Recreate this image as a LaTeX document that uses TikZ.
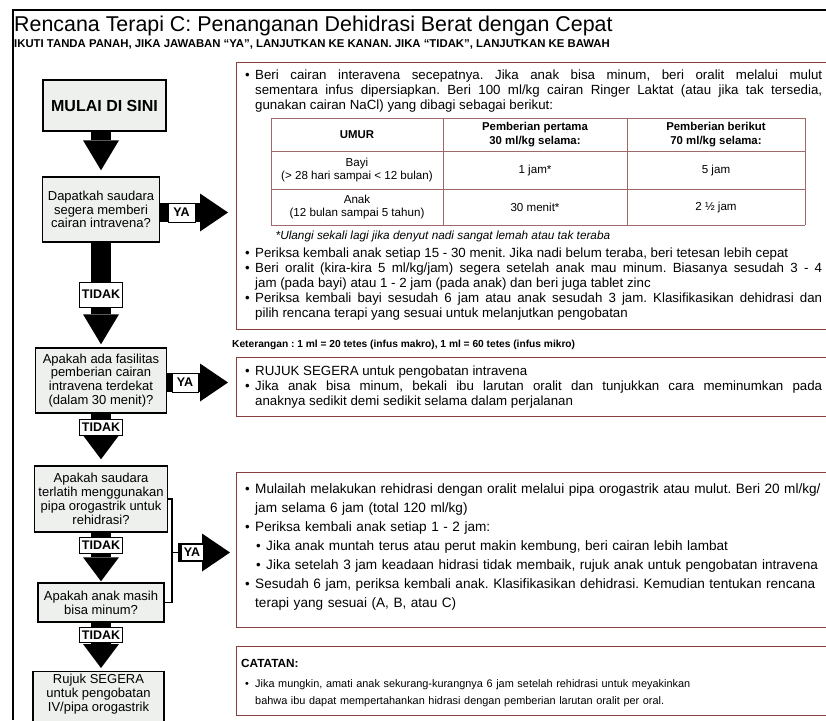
\documentclass[tikz,border=0pt]{standalone}
\usepackage{fontspec}
\setmainfont{Liberation Sans}
\usetikzlibrary{arrows.meta}

\hbadness=10000
\hfuzz=60pt
\hyphenpenalty=10000
\exhyphenpenalty=10000
\frenchspacing

\definecolor{qfill}{RGB}{237,240,236}
\definecolor{boxred}{RGB}{135,62,62}
\definecolor{tabred}{RGB}{160,105,105}

\newcommand{\fsz}[2]{\fontsize{#1}{#2}\selectfont}

\begin{document}
\begin{tikzpicture}[x=1pt,y=-1pt]
	\tikzstyle{outline} = [line width=1.8pt];
	\tikzstyle{question} = [draw, line width=1.4pt, fill=qfill, align=center, inner sep=0pt, font={\fsz{13}{13.8}}];
	\tikzstyle{advice} = [draw=boxred, line width=1.4pt, anchor=north west, inner sep=0pt, minimum width=640pt];
	\tikzstyle{txt} = [anchor=base west, inner sep=0pt, text width=567pt, align=justify, font={\fsz{13.3}{15}}];
	\tikzstyle{ragged} = [anchor=base west, inner sep=0pt, text width=620pt, align=left, font={\fsz{13.6}{19}}];
	\tikzstyle{bul} = [anchor=base west, inner sep=0pt, font={\fsz{13.3}{15}}];
	\tikzstyle{lbl} = [draw, line width=0.8pt, fill=white, inner sep=0pt, font={\bfseries\fsz{12.5}{13}}];
	\tikzstyle{godown} = [line width=20pt, -{Triangle[width=36pt,length=30pt,line width=0pt]}];
	\tikzstyle{goshort} = [line width=20pt, -{Triangle[width=36pt,length=24pt,line width=0pt]}];
	\tikzstyle{goright} = [line width=19pt, -{Triangle[width=38pt,length=28pt,line width=0pt]}];
	\tikzstyle{bracket} = [line width=1.8pt];
	\tikzstyle{tabline} = [draw=tabred, line width=0.9pt];
	\tikzstyle{cell} = [align=center, inner sep=0pt, font={\fsz{11.6}{13.5}}];
	\tikzstyle{headcell} = [align=center, inner sep=0pt, font={\bfseries\fsz{11.4}{13.5}}];

	\clip (0,0) rectangle (826,720);

	% frame and heading
	\draw[outline] (13,720) -- (13,10) -- (826,10);
	\node[anchor=base west, inner sep=0pt, font={\fsz{21.4}{24}}] (title) at (14,31) {Rencana Terapi C: Penanganan Dehidrasi Berat dengan Cepat};
	\node[anchor=base west, inner sep=0pt, font={\bfseries\fsz{11.35}{13}}] (subtitle) at (14,47) {IKUTI TANDA PANAH, JIKA JAWABAN “YA”, LANJUTKAN KE KANAN. JIKA “TIDAK”, LANJUTKAN KE BAWAH};

	% questions on the left
	\node[question, font={\bfseries\fsz{16}{18}}, minimum width=123pt, minimum height=51pt] (start) at (104.5,105.5) {MULAI DI SINI};
	\node[question, minimum width=117pt, minimum height=65pt] (q1) at (101,209.5) {Dapatkah saudara\\segera memberi\\cairan intravena?};
	\node[question, minimum width=131pt, minimum height=65pt] (q2) at (101,380.5) {Apakah ada fasilitas\\pemberian cairan\\intravena terdekat\\(dalam 30 menit)?};
	\node[question, minimum width=133pt, minimum height=66pt] (q3) at (101,499) {Apakah saudara\\terlatih menggunakan\\pipa orogastrik untuk\\rehidrasi?};
	\node[question, minimum width=126pt, minimum height=39pt] (q4) at (101,602.5) {Apakah anak masih\\bisa minum?};
	\node[question, minimum width=131pt, minimum height=60pt, anchor=north] (refer) at (98.5,671) {};
	\node[align=center, inner sep=0pt, font={\fsz{13}{13.8}}] (refertxt) at (98.5,694) {Rujuk SEGERA\\untuk pengobatan\\IV/pipa orogastrik};

	% boxes on the right
	\node[advice, minimum height=267pt] (r1) at (236,62) {};
	\node[advice, minimum height=59pt] (r2) at (236,357) {};
	\node[advice, minimum height=155pt] (r3) at (236,472) {};
	\node[advice, minimum height=69pt] (r4) at (236,646) {};

	% TIDAK arrows
	\draw[godown, shorten >=6pt] (start.south -| q1) -- (q1.north);
	\draw[godown, shorten >=3pt] (q1.south) -- (q2.north);
	\draw[goshort, shorten >=6pt] (q2.south) -- (q3.north);
	\draw[goshort, shorten >=1pt] (q3.south) -- (q4.north);
	\draw[goshort, shorten >=3pt] (q4.south) -- (q4.south |- refer.north);

	\node[lbl, minimum width=43pt, minimum height=25pt] (no1) at (101,294.5) {TIDAK};
	\node[lbl, minimum width=43pt, minimum height=16pt] (no2) at (101,427.5) {TIDAK};
	\node[lbl, minimum width=43pt, minimum height=16pt] (no3) at (101,545.5) {TIDAK};
	\node[lbl, minimum width=43pt, minimum height=15pt] (no4) at (101,635) {TIDAK};

	% YA arrows
	\coordinate (ya1) at ([yshift=-3pt]q1.east);
	\coordinate (ya2) at ([yshift=-2pt]q2.east);
	\coordinate (brk) at (172,552.5);
	\coordinate (ya3) at (178,552.5);

	\draw[goright, shorten >=8pt] (ya1) -- (ya1 -| r1.west);
	\draw[goright, shorten >=8pt] (ya2) -- (ya2 -| r2.west);
	\draw[bracket] (q3.east) -| (brk) |- (q4.east);
	\draw[bracket] (brk) -- (ya3);
	\draw[goright, shorten >=6pt] (ya3) -- (ya3 -| r3.west);

	\node[lbl, minimum width=27pt, minimum height=19pt] (yes1) at (181.5,212.5) {YA};
	\node[lbl, minimum width=26pt, minimum height=19pt] (yes2) at (185,382.5) {YA};
	\node[lbl, minimum width=22pt, minimum height=16pt] (yes3) at (192,552.5) {YA};

	% first box: infus
	\node[bul] (b11) at (245,79) {•};
	\node[txt] (t11) at (255,79) {Beri cairan interavena secepatnya. Jika anak bisa minum, beri oralit melalui mulut\linebreak sementara infus dipersiapkan. Beri 100 ml/kg cairan Ringer Laktat (atau jika tak tersedia,\linebreak gunakan cairan NaCl) yang dibagi sebagai berikut:};

	\foreach \yy in {118,151,189,225} \draw[tabline] (271,\yy) -- (805,\yy);
	\foreach \xx in {271,443,627,805} \draw[tabline] (\xx,118) -- (\xx,225);

	\node[headcell] (umur) at (357,134.5) {UMUR};
	\node[headcell] (pertama) at (535,134.5) {Pemberian pertama\\30 ml/kg selama:};
	\node[headcell] (berikut) at (716,134.5) {Pemberian berikut\\70 ml/kg selama:};
	\node[cell] (bayi) at (357,170) {Bayi\\(> 28 hari sampai < 12 bulan)};
	\node[cell] (bayi1) at (535,170) {1 jam*};
	\node[cell] (bayi2) at (716,170) {5 jam};
	\node[cell] (anak) at (357,207) {Anak\\(12 bulan sampai 5 tahun)};
	\node[cell] (anak1) at (535,207) {30 menit*};
	\node[cell] (anak2) at (716,207) {2 ½ jam};
	\node[anchor=base west, inner sep=0pt, font={\itshape\fsz{11.8}{13}}] (ulangi) at (275.5,239) {*Ulangi sekali lagi jika denyut nadi sangat lemah atau tak teraba};

	\node[bul] (b12) at (245,257) {•};
	\node[txt] (t12) at (255,257) {Periksa kembali anak setiap 15 - 30 menit. Jika nadi belum teraba, beri tetesan lebih cepat};
	\node[bul] (b13) at (245,272) {•};
	\node[txt] (t13) at (255,272) {Beri oralit (kira-kira 5 ml/kg/jam) segera setelah anak mau minum. Biasanya sesudah 3 - 4\linebreak jam (pada bayi) atau 1 - 2 jam (pada anak) dan beri juga tablet zinc};
	\node[bul] (b14) at (245,302) {•};
	\node[txt] (t14) at (255,302) {Periksa kembali bayi sesudah 6 jam atau anak sesudah 3 jam. Klasifikasikan dehidrasi dan\linebreak pilih rencana terapi yang sesuai untuk melanjutkan pengobatan};

	\node[anchor=base west, inner sep=0pt, font={\bfseries\fsz{10.2}{11}}] (ket) at (232,347) {Keterangan : 1 ml = 20 tetes (infus makro), 1 ml = 60 tetes (infus mikro)};

	% second box: rujuk
	\node[bul] (b21) at (245,375) {•};
	\node[txt] (t21) at (255,375) {RUJUK SEGERA untuk pengobatan intravena};
	\node[bul] (b22) at (245,390) {•};
	\node[txt] (t22) at (255,390) {Jika anak bisa minum, bekali ibu larutan oralit dan tunjukkan cara meminumkan pada\linebreak anaknya sedikit demi sedikit selama dalam perjalanan};

	% third box: pipa orogastrik
	\node[bul] (b31) at (245,493) {•};
	\node[ragged] (t31) at (255,493) {Mulailah melakukan rehidrasi dengan oralit melalui pipa orogastrik atau mulut. Beri 20 ml/kg/\\jam selama 6 jam (total 120 ml/kg)};
	\node[bul] (b32) at (245,531) {•};
	\node[ragged] (t32) at (255,531) {Periksa kembali anak setiap 1 - 2 jam:};
	\node[bul] (b33) at (256,550) {•};
	\node[ragged] (t33) at (266,550) {Jika anak muntah terus atau perut makin kembung, beri cairan lebih lambat};
	\node[bul] (b34) at (256,569) {•};
	\node[ragged] (t34) at (266,569) {Jika setelah 3 jam keadaan hidrasi tidak membaik, rujuk anak untuk pengobatan intravena};
	\node[bul] (b35) at (245,588) {•};
	\node[ragged] (t35) at (255,588) {Sesudah 6 jam, periksa kembali anak. Klasifikasikan dehidrasi. Kemudian tentukan rencana\\terapi yang sesuai (A, B, atau C)};

	% fourth box: catatan
	\node[anchor=base west, inner sep=0pt, font={\bfseries\fsz{11.8}{13}}] (catatan) at (241,667) {CATATAN:};
	\node[anchor=base west, inner sep=0pt, font={\fsz{10.9}{17}}] (b41) at (245,687) {•};
	\node[ragged, font={\fsz{10.9}{17}}] (t41) at (255,687) {Jika mungkin, amati anak sekurang-kurangnya 6 jam setelah rehidrasi untuk meyakinkan\\bahwa ibu dapat mempertahankan hidrasi dengan pemberian larutan oralit per oral.};
\end{tikzpicture}
\end{document}
